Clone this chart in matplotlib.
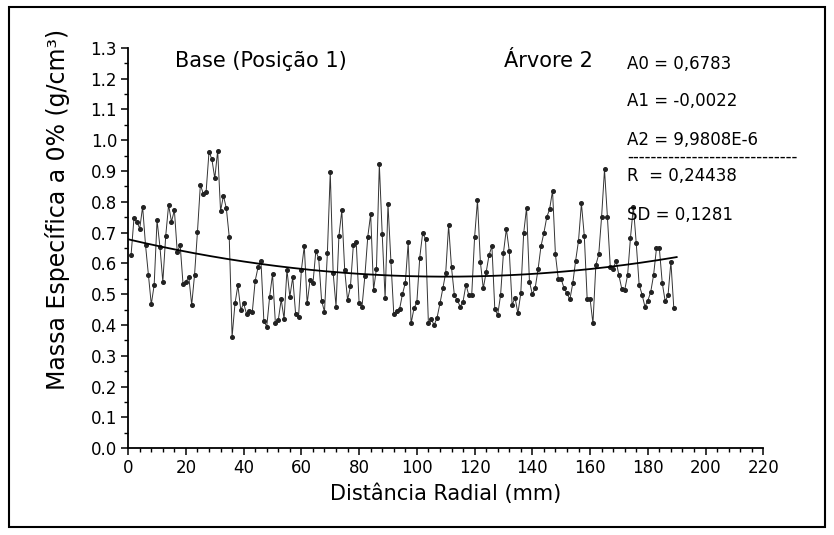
import matplotlib
matplotlib.use("Agg")
import matplotlib.pyplot as plt
import numpy as np
from matplotlib.patches import Rectangle
from matplotlib.ticker import MultipleLocator

# radial position (mm) and density at 0% moisture (g/cm3)
distance = list(range(1, 190))
density = [
    0.627, 0.746, 0.735, 0.713, 0.784, 0.660, 0.562, 0.467, 0.530, 0.740,
    0.654, 0.540, 0.689, 0.790, 0.735, 0.773, 0.637, 0.660, 0.533, 0.540,
    0.557, 0.465, 0.564, 0.703, 0.855, 0.827, 0.833, 0.963, 0.938, 0.876,
    0.966, 0.770, 0.820, 0.779, 0.687, 0.362, 0.470, 0.529, 0.449, 0.470,
    0.436, 0.447, 0.443, 0.544, 0.588, 0.608, 0.413, 0.395, 0.492, 0.565,
    0.405, 0.416, 0.483, 0.420, 0.579, 0.492, 0.555, 0.436, 0.425, 0.579,
    0.656, 0.470, 0.546, 0.535, 0.640, 0.616, 0.479, 0.443, 0.633, 0.896,
    0.570, 0.460, 0.689, 0.772, 0.579, 0.481, 0.526, 0.660, 0.668, 0.470,
    0.460, 0.560, 0.687, 0.760, 0.514, 0.583, 0.922, 0.694, 0.487, 0.792,
    0.609, 0.436, 0.447, 0.451, 0.500, 0.537, 0.668, 0.405, 0.454, 0.474,
    0.619, 0.698, 0.680, 0.405, 0.418, 0.400, 0.424, 0.470, 0.519, 0.570,
    0.724, 0.587, 0.496, 0.481, 0.460, 0.476, 0.531, 0.497, 0.497, 0.685,
    0.805, 0.605, 0.519, 0.571, 0.627, 0.656, 0.451, 0.433, 0.497, 0.635,
    0.712, 0.641, 0.465, 0.489, 0.438, 0.503, 0.698, 0.781, 0.541, 0.500,
    0.521, 0.582, 0.656, 0.699, 0.750, 0.777, 0.836, 0.629, 0.549, 0.549,
    0.519, 0.503, 0.483, 0.535, 0.609, 0.674, 0.795, 0.689, 0.484, 0.485,
    0.405, 0.595, 0.629, 0.752, 0.905, 0.752, 0.589, 0.583, 0.609, 0.561,
    0.517, 0.514, 0.562, 0.684, 0.784, 0.665, 0.531, 0.499, 0.460, 0.479,
    0.507, 0.562, 0.649, 0.649, 0.537, 0.478, 0.496, 0.605, 0.456,
]

# polynomial fit coefficients shown on the chart
A0 = 0.6783
A1 = -0.0022
A2 = 9.9808e-6
fit_labels = ["A0 = 0,6783", "A1 = -0,0022", "A2 = 9,9808E-6"]
stat_labels = ["R  = 0,24438", "SD = 0,1281"]


def main():
    fig = plt.figure(figsize=(8.34, 5.35), dpi=100)
    ax = fig.add_axes([0.1537, 0.1622, 0.7615, 0.7484])

    ax.plot(distance, density, color="#333333", lw=0.7, marker="o",
            ms=2.6, mfc="#222222", mec="#222222")

    xf = np.linspace(0, 190, 200)
    ax.plot(xf, A0 + A1 * xf + A2 * xf ** 2, color="black", lw=1.3)

    ax.set_xlim(0, 220)
    ax.set_ylim(0, 1.3)
    ax.xaxis.set_major_locator(MultipleLocator(20))
    ax.xaxis.set_minor_locator(MultipleLocator(4))
    ax.yaxis.set_major_locator(MultipleLocator(0.1))
    ax.yaxis.set_minor_locator(MultipleLocator(0.05))
    ax.set_yticklabels([f"{v:.1f}" for v in ax.get_yticks()])
    ax.spines["top"].set_visible(False)
    ax.spines["right"].set_visible(False)
    ax.spines["left"].set_linewidth(1.3)
    ax.spines["bottom"].set_linewidth(1.3)
    ax.tick_params(which="major", length=5, width=1.1, labelsize=12, pad=3)
    ax.tick_params(which="minor", length=3, width=1.0)

    fig.text(446 / 834, 1 - 494 / 535, "Distância Radial (mm)",
             ha="center", va="center", fontsize=15)
    fig.text(57 / 834, 1 - 209 / 535, "Massa Específica a 0% (g/cm³)",
             ha="center", va="center", rotation=90, fontsize=17)

    fig.text(175 / 834, 1 - 61 / 535, "Base (Posição 1)",
             ha="left", va="center", fontsize=15)
    fig.text(504 / 834, 1 - 61 / 535, "Árvore 2",
             ha="left", va="center", fontsize=15)

    for lab, yp in zip(fit_labels, [64, 101, 140]):
        fig.text(627 / 834, 1 - yp / 535, lab, ha="left", va="center",
                 fontsize=12)
    fig.text(627 / 834, 1 - 157 / 535, "-" * 29, ha="left", va="center",
             fontsize=12)
    for lab, yp in zip(stat_labels, [176, 215]):
        fig.text(627 / 834, 1 - yp / 535, lab, ha="left", va="center",
                 fontsize=12)

    fig.patches.append(Rectangle((9 / 834, 1 - 527 / 535), 816 / 834,
                                 520 / 535, transform=fig.transFigure,
                                 fill=False, lw=1.5, ec="black"))

    fig.savefig("out.png", dpi=100)


if __name__ == '__main__':
    main()
